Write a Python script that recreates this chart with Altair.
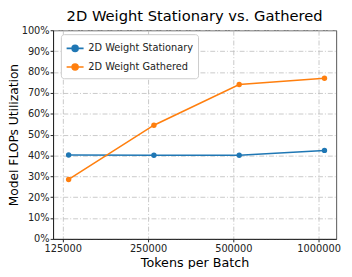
import altair as alt
import pandas as pd

tokens = [131072, 262144, 524288, 1048576]
stationary = [0.402, 0.401, 0.401, 0.424]
gathered = [0.285, 0.545, 0.740, 0.770]
series_names = ["2D Weight Stationary", "2D Weight Gathered"]
colors = ["#1f77b4", "#ff7f0e"]
x_ticks = [125000, 250000, 500000, 1000000]
y_ticks = [i / 10 for i in range(11)]

rows = []
for t, s, g in zip(tokens, stationary, gathered):
    rows.append({"tokens": t, "util": s, "series": series_names[0]})
    rows.append({"tokens": t, "util": g, "series": series_names[1]})
df = pd.DataFrame(rows)

font = "DejaVu Sans"
legend_symbol = "M-1,0L1,0M-0.35,0A0.35,0.35 0 1,0 0.35,0A0.35,0.35 0 1,0 -0.35,0Z"

x = alt.X("tokens:Q",
          scale=alt.Scale(type="log", base=2, domain=[115500, 1153000], nice=False),
          axis=alt.Axis(values=x_ticks, format="d", title="Tokens per Batch",
                        labelFlush=False, labelOverlap=False, titlePadding=3))
y = alt.Y("util:Q",
          scale=alt.Scale(domain=[0, 1], nice=False),
          axis=alt.Axis(values=y_ticks, format=".0%", title="Model FLOPs Utilization",
                        titlePadding=1, labelPadding=1, titleFontSize=12.5))
color = alt.Color("series:N",
                  scale=alt.Scale(domain=series_names, range=colors),
                  legend=alt.Legend(title=None, orient="none", legendX=8, legendY=4,
                                    symbolType=legend_symbol, symbolSize=300,
                                    symbolStrokeWidth=1.6,
                                    strokeColor="#cccccc", fillColor="white",
                                    padding=5, cornerRadius=3,
                                    labelFont=font, labelFontSize=10, labelColor="#222",
                                    rowPadding=3))

base = alt.Chart(df).encode(x=x, y=y, color=color)
lines = base.mark_line(strokeWidth=1.6)
points = base.mark_point(filled=True, size=30, opacity=1)

chart = (lines + points).properties(
    width=289, height=213,
    title=alt.TitleParams("2D Weight Stationary vs. Gathered", font=font, fontSize=15,
                          fontWeight="normal", color="black", offset=1),
    autosize=alt.AutoSizeParams(type="none"),
    padding={"left": 46, "top": 20, "right": 8, "bottom": 28},
).configure_view(
    stroke="#555555", strokeWidth=1
).configure_axis(
    labelFont=font, labelFontSize=10, labelColor="#222",
    titleFont=font, titleFontSize=13, titleFontWeight="normal", titleColor="black",
    grid=True, gridColor="#bbbbbb", gridDash=[5, 2, 1, 2], gridWidth=0.8,
    domain=True, domainColor="#222", tickColor="#222", tickSize=3,
    labelPadding=2
)

chart.save("out.html", embed_options={"renderer": "svg", "actions": False})
